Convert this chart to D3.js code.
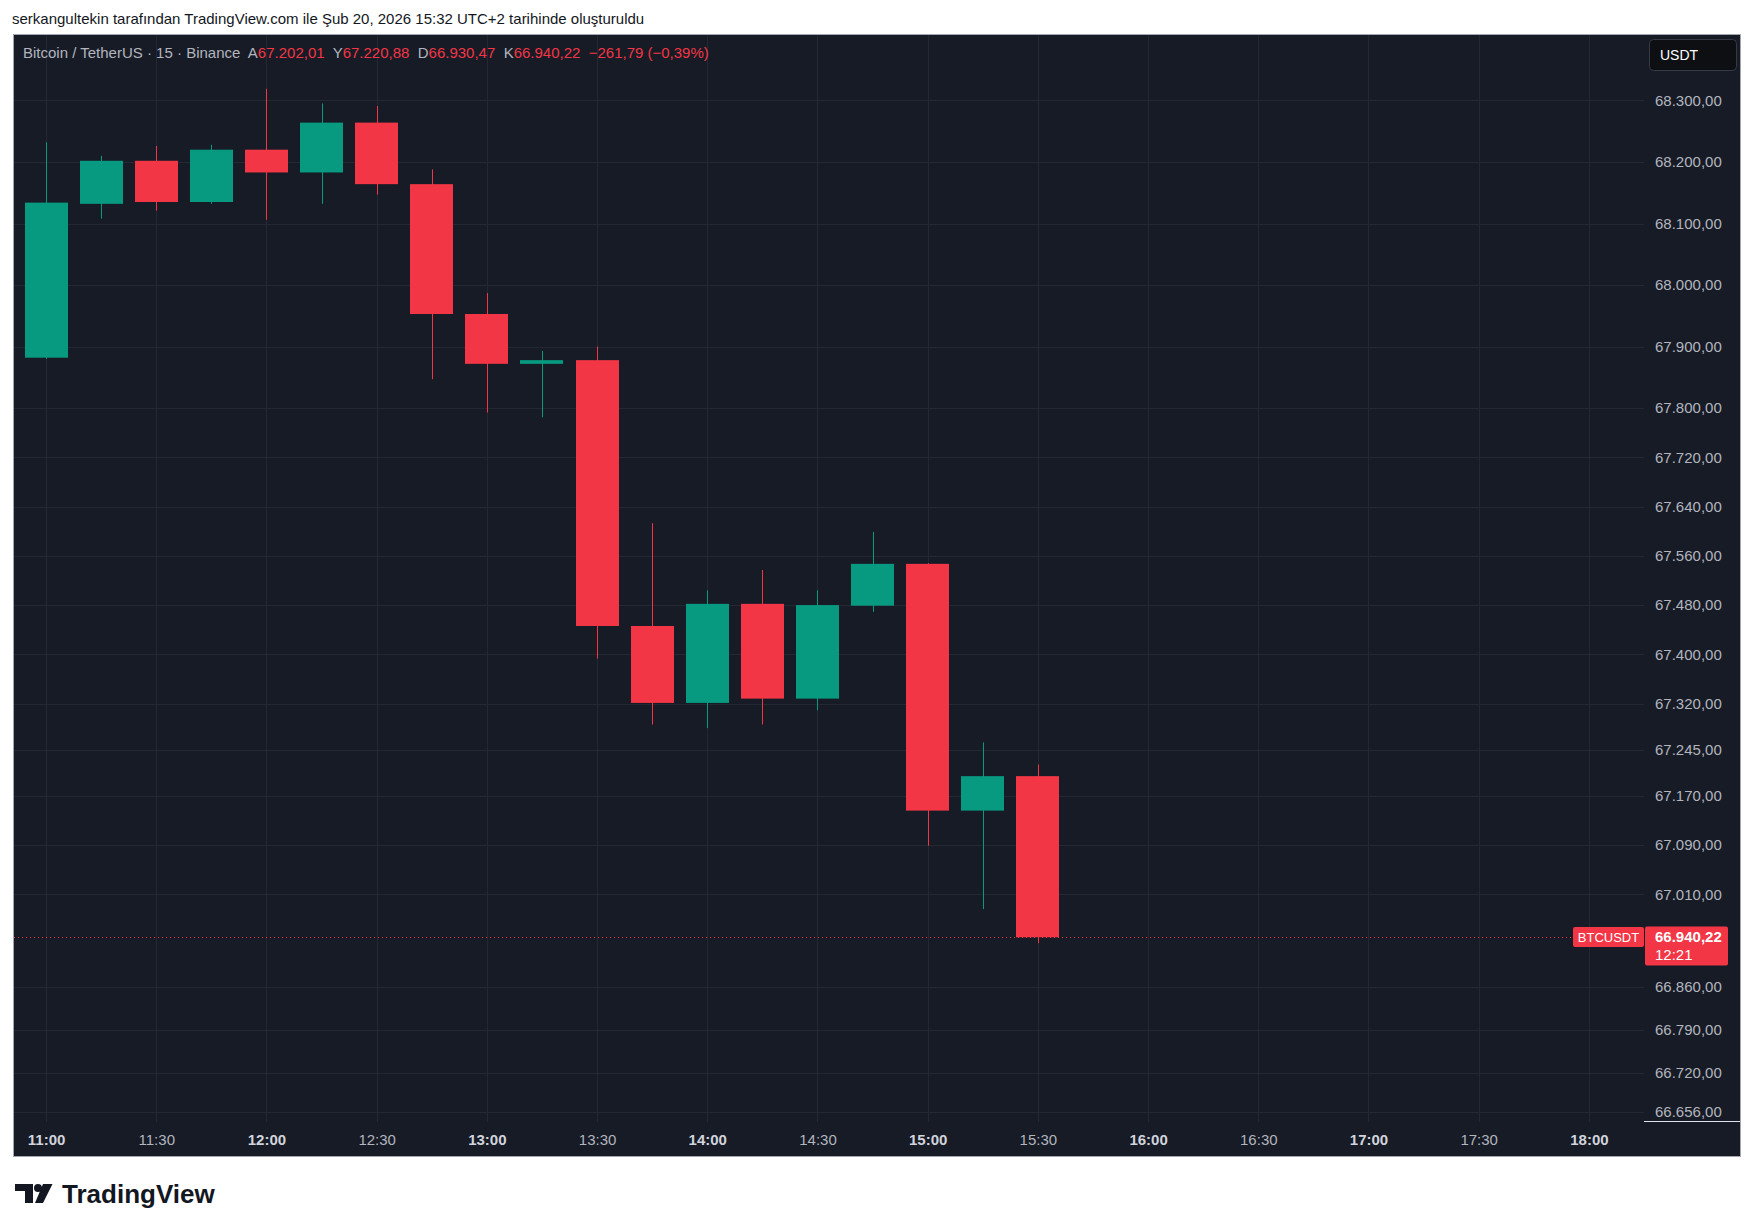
<!DOCTYPE html>
<html>
<head>
<meta charset="utf-8">
<script src="https://cdn.jsdelivr.net/npm/d3@7"></script>
<style>
  html, body { margin: 0; padding: 0; background: #ffffff; }
  svg { display: block; font-family: "Liberation Sans", Arial, sans-serif; }
</style>
</head>
<body>
<script>
const width = 1754;
const height = 1232;

// 15 dakikalık mumlar (BTCUSDT, Binance)
const times  = ["11:00", "11:15", "11:30", "11:45", "12:00", "12:15", "12:30", "12:45", "13:00", "13:15",
                "13:30", "13:45", "14:00", "14:15", "14:30", "14:45", "15:00", "15:15", "15:30"];
const opens  = [67882, 68132, 68202, 68135, 68220, 68183, 68264, 68164, 67953, 67872,
                67878, 67446, 67321, 67482, 67328, 67479, 67547, 67146, 67202.01];
const highs  = [68232, 68210, 68226, 68228, 68319, 68295, 68291, 68188, 67987, 67893,
                67900, 67613, 67504, 67537, 67504, 67599, 67548, 67257, 67220.88];
const lows   = [67880, 68108, 68121, 68132, 68106, 68132, 68147, 67847, 67793, 67785,
                67393, 67286, 67280, 67286, 67309, 67469, 67089, 66986, 66930.47];
const closes = [68134, 68202, 68135, 68220, 68183, 68264, 68164, 67953, 67872, 67878,
                67446, 67321, 67482, 67328, 67480, 67547, 67146, 67202.01, 66940.22];

const priceTicks = [68300, 68200, 68100, 68000, 67900, 67800, 67720, 67640, 67560, 67480,
                    67400, 67320, 67245, 67170, 67090, 67010, 66860, 66790, 66720, 66656];
const timeTicks  = ["11:00", "11:30", "12:00", "12:30", "13:00", "13:30", "14:00", "14:30",
                    "15:00", "15:30", "16:00", "16:30", "17:00", "17:30", "18:00"];

const upColor = "#089981";
const downColor = "#f23645";
const bg = "#171b26";
const gridColor = "#242835";
const labelColor = "#b2b5be";

const trLocale = d3.formatLocale({ decimal: ",", thousands: ".", grouping: [3], currency: ["", ""] });
const fmtPrice = trLocale.format(",.2f");
const fmtPct = trLocale.format(".2f");

const parseTime = d3.timeParse("%H:%M");

const candles = times.map((t, i) => ({
    t: parseTime(t), o: opens[i], h: highs[i], l: lows[i], c: closes[i]
}));

const frame = { left: 13, top: 34, right: 1740, bottom: 1156 };
const plot = { left: 13, top: 34, right: 1644, bottom: 1122 };

const x = d3.scaleTime()
    .domain([parseTime("10:51"), parseTime("18:15")])
    .range([plot.left, plot.right]);

const y = d3.scaleLinear()
    .domain([66640, 68408])
    .range([plot.bottom, plot.top]);

const svg = d3.select("body").append("svg")
    .attr("width", width)
    .attr("height", height);

// Üst başlık
svg.append("text")
    .attr("x", 12)
    .attr("y", 24)
    .attr("font-size", 15)
    .attr("fill", "#131722")
    .text("serkangultekin tarafından TradingView.com ile Şub 20, 2026 15:32 UTC+2 tarihinde oluşturuldu");

// Grafik çerçevesi
svg.append("rect")
    .attr("x", frame.left + 0.5)
    .attr("y", frame.top + 0.5)
    .attr("width", frame.right - frame.left)
    .attr("height", frame.bottom - frame.top)
    .attr("fill", bg)
    .attr("stroke", "#a3a6af");

// Izgara
svg.append("g").selectAll("line")
    .data(priceTicks)
    .enter().append("line")
    .attr("x1", plot.left + 1)
    .attr("x2", plot.right)
    .attr("y1", d => Math.round(y(d)) + 0.5)
    .attr("y2", d => Math.round(y(d)) + 0.5)
    .attr("stroke", gridColor);

svg.append("g").selectAll("line")
    .data(timeTicks)
    .enter().append("line")
    .attr("x1", d => Math.round(x(parseTime(d))) + 0.5)
    .attr("x2", d => Math.round(x(parseTime(d))) + 0.5)
    .attr("y1", plot.top + 1)
    .attr("y2", plot.bottom)
    .attr("stroke", gridColor);

// Son fiyat çizgisi
const last = candles[candles.length - 1];
const prev = candles[candles.length - 2];
const lastY = Math.round(y(last.c)) + 0.5;

svg.append("line")
    .attr("x1", plot.left + 1)
    .attr("x2", 1573)
    .attr("y1", lastY)
    .attr("y2", lastY)
    .attr("stroke", downColor)
    .attr("stroke-dasharray", "1,3");

// Mumlar
const step = x(parseTime("11:15")) - x(parseTime("11:00"));
const bodyW = Math.round(step * 0.78);

const candle = svg.append("g").selectAll("g")
    .data(candles)
    .enter().append("g")
    .attr("fill", d => d.c >= d.o ? upColor : downColor)
    .attr("stroke", d => d.c >= d.o ? upColor : downColor);

candle.append("line")
    .attr("x1", d => Math.round(x(d.t)) + 0.5)
    .attr("x2", d => Math.round(x(d.t)) + 0.5)
    .attr("y1", d => y(d.h))
    .attr("y2", d => y(d.l));

candle.append("rect")
    .attr("stroke", "none")
    .attr("x", d => Math.round(x(d.t) - bodyW / 2))
    .attr("width", bodyW)
    .attr("y", d => y(Math.max(d.o, d.c)))
    .attr("height", d => Math.max(2, Math.abs(y(d.o) - y(d.c))));

// Fiyat ekseni
const yAxis = svg.append("g")
    .attr("transform", `translate(${plot.right},0)`)
    .call(d3.axisRight(y).tickValues(priceTicks).tickFormat(fmtPrice).tickSize(0).tickPadding(11));
yAxis.select(".domain").remove();
yAxis.selectAll("text")
    .attr("font-size", 15)
    .attr("font-family", "Liberation Sans, Arial, sans-serif")
    .attr("fill", labelColor);

svg.append("line")
    .attr("x1", plot.right)
    .attr("x2", frame.right)
    .attr("y1", plot.bottom - 0.5)
    .attr("y2", plot.bottom - 0.5)
    .attr("stroke", "#e0e3eb");

// Zaman ekseni
const xAxis = svg.append("g")
    .attr("transform", `translate(0,${plot.bottom})`)
    .call(d3.axisBottom(x).tickValues(timeTicks.map(parseTime)).tickFormat(d3.timeFormat("%H:%M")).tickSize(0).tickPadding(12));
xAxis.select(".domain").remove();
xAxis.selectAll("text")
    .attr("font-size", 15)
    .attr("font-family", "Liberation Sans, Arial, sans-serif")
    .attr("font-weight", d => d.getMinutes() === 0 ? "bold" : "normal")
    .attr("fill", d => d.getMinutes() === 0 ? "#d1d4dc" : labelColor);

// USDT kutusu
svg.append("rect")
    .attr("x", 1649.5)
    .attr("y", 39.5)
    .attr("width", 87)
    .attr("height", 31)
    .attr("rx", 4)
    .attr("fill", "#0e0f13")
    .attr("stroke", "#363a45");
svg.append("text")
    .attr("x", 1660)
    .attr("y", 60)
    .attr("font-size", 14)
    .attr("fill", "#ffffff")
    .text("USDT");

// Son fiyat etiketleri
svg.append("rect")
    .attr("x", 1573)
    .attr("y", lastY - 10.5)
    .attr("width", 71)
    .attr("height", 20)
    .attr("rx", 2)
    .attr("fill", downColor);
svg.append("text")
    .attr("x", 1608.5)
    .attr("y", lastY + 4.5)
    .attr("text-anchor", "middle")
    .attr("font-size", 13)
    .attr("fill", "#ffffff")
    .text("BTCUSDT");

svg.append("rect")
    .attr("x", 1645)
    .attr("y", lastY - 11)
    .attr("width", 83)
    .attr("height", 39)
    .attr("rx", 2)
    .attr("fill", downColor);
svg.append("text")
    .attr("x", 1655)
    .attr("y", lastY + 4.5)
    .attr("font-size", 15)
    .attr("font-weight", "bold")
    .attr("fill", "#ffffff")
    .text(fmtPrice(last.c));
svg.append("text")
    .attr("x", 1655)
    .attr("y", lastY + 22)
    .attr("font-size", 15)
    .attr("fill", "#ffffff")
    .text("12:21");

// Lejant
const change = last.c - prev.c;
const legend = svg.append("text")
    .attr("x", 23)
    .attr("y", 58)
    .attr("font-size", 15)
    .attr("fill", labelColor)
    .attr("xml:space", "preserve");
legend.append("tspan").text("Bitcoin / TetherUS · 15 · Binance  A");
legend.append("tspan").attr("fill", downColor).text(fmtPrice(last.o));
legend.append("tspan").text("  Y");
legend.append("tspan").attr("fill", downColor).text(fmtPrice(last.h));
legend.append("tspan").text("  D");
legend.append("tspan").attr("fill", downColor).text(fmtPrice(last.l));
legend.append("tspan").text("  K");
legend.append("tspan").attr("fill", downColor).text(fmtPrice(last.c));
legend.append("tspan").attr("fill", downColor)
    .text(`  ${trLocale.format(",.2f")(change)} (${fmtPct(change / prev.c * 100)}%)`);

// TradingView logosu
const logo = svg.append("g").attr("fill", "#131722");
logo.append("path").attr("d", "M15,1184 H33 V1203 H25 V1191 H15 Z");
logo.append("circle").attr("cx", 38).attr("cy", 1188).attr("r", 4);
logo.append("path").attr("d", "M43,1184 H52.5 L43,1203 H35 Z");
logo.append("text")
    .attr("x", 62)
    .attr("y", 1203)
    .attr("font-size", 26)
    .attr("font-weight", "bold")
    .attr("fill", "#131722")
    .text("TradingView");
</script>
</body>
</html>
